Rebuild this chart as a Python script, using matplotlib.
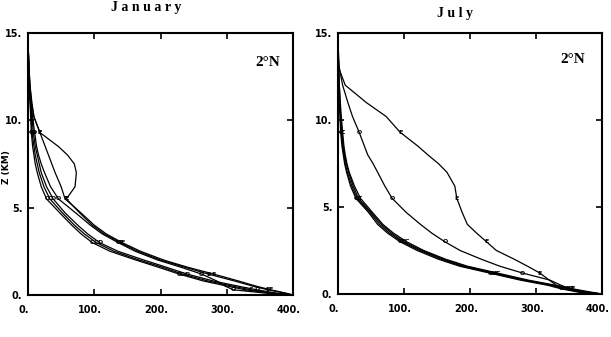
import matplotlib
matplotlib.use("Agg")
import matplotlib.pyplot as plt
import matplotlib.transforms as mtransforms

# height levels (km) shared by all profiles
z_levels = [0, 0.1, 0.3, 0.5, 0.8, 1.2, 1.6, 2.0, 2.5, 3.0, 3.5, 4.0, 4.7, 5.5,
            6.2, 7.0, 7.5, 8.0, 8.5, 9.3, 10.2, 11.0, 12.0, 13.0, 14.0, 15.0]
marker_levels = [0.3, 1.2, 3.0, 5.5, 9.3]

# January profiles
jan_1 = [400, 368, 328, 302, 265, 228, 196, 163, 124, 97, 80, 66, 48, 28,
         20, 14, 11, 9, 7, 5, 4, 3, 2, 1, 0.5, 0]
jan_2 = [400, 372, 336, 310, 272, 233, 202, 168, 130, 103, 85, 70, 52, 33,
         24, 17, 14, 11, 9, 6, 5, 3.5, 2, 1, 0.5, 0]
jan_3 = [400, 376, 345, 318, 280, 240, 208, 175, 136, 108, 90, 75, 56, 38,
         28, 20, 17, 14, 11, 8, 6, 4, 2.5, 1.2, 0.5, 0]
jan_4 = [400, 390, 366, 345, 318, 280, 240, 205, 170, 142, 118, 100, 80, 56,
         50, 41, 36, 31, 26, 18, 9, 6, 3, 1.5, 0.5, 0]
jan_5 = [400, 388, 362, 340, 312, 272, 236, 200, 166, 139, 115, 97, 78, 58,
         71, 73, 70, 60, 46, 18, 9, 5, 3, 1.5, 0.5, 0]
jan_6 = [400, 360, 310, 298, 285, 262, 230, 196, 162, 136, 112, 94, 72, 46,
         34, 25, 20, 16, 13, 10, 7, 4, 2, 1, 0.5, 0]

# July profiles
jul_e = [400, 385, 355, 331, 320, 306, 287, 267, 240, 225, 210, 196, 188, 180,
         177, 165, 152, 136, 121, 94, 73, 43, 11, 1, 0.3, 0]
jul_o = [400, 375, 352, 338, 321, 280, 245, 217, 185, 162, 142, 125, 103, 82,
         71, 60, 53, 45, 40, 32, 22, 15, 7, 2, 0.5, 0]
jul_1 = [400, 365, 338, 318, 276, 230, 184, 152, 120, 94, 75, 60, 46, 27,
         19, 13, 10, 8, 6, 4, 3, 2, 1, 0.5, 0, 0]
jul_2 = [400, 368, 342, 322, 280, 234, 188, 156, 124, 97, 78, 63, 48, 29,
         21, 14, 11, 9, 7, 5, 3.5, 2.5, 1.5, 0.5, 0, 0]
jul_3 = [400, 372, 348, 326, 284, 238, 192, 160, 127, 100, 81, 66, 50, 31,
         23, 16, 12.5, 10, 8, 6, 4, 3, 2, 1, 0, 0]
jul_4 = [400, 376, 354, 330, 288, 242, 196, 163, 130, 104, 84, 68, 52, 34,
         25, 17, 13.5, 11, 9, 7, 5, 3.5, 2, 1, 0, 0]

x_ticks = [0, 100, 200, 300, 400]
x_labels = ["0.", "100.", "200.", "300.", "400."]
y_ticks = [0, 5, 10, 15]
y_labels = ["0.", "5.", "10.", "15."]

jan_curves = [(jan_1, "C"), (jan_2, "C"), (jan_3, "D"),
              (jan_4, "E"), (jan_5, "E"), (jan_6, "O")]
jul_curves = [(jul_e, "E"), (jul_o, "O"), (jul_1, "C"),
              (jul_2, "C"), (jul_3, "E"), (jul_4, "C")]

fig = plt.figure(figsize=(6.11, 3.37), dpi=100)
fig.patch.set_facecolor("white")

ax_jan = fig.add_axes([28 / 611, 1 - 295 / 337, 265 / 611, 262 / 337])
ax_jul = fig.add_axes([338 / 611, 1 - 294 / 337, 264 / 611, 261 / 337])

# labels sit a little left of their ticks in the original
shift = mtransforms.ScaledTranslation(-4 / 100, 0, fig.dpi_scale_trans)

for ax, curves, lab_x, lab_y in [(ax_jan, jan_curves, 0.951, 0.889),
                                 (ax_jul, jul_curves, 0.936, 0.897)]:
    for xs, letter in curves:
        ax.plot(xs, z_levels, color="black", linewidth=0.9)
        for zm in marker_levels:
            i = z_levels.index(zm)
            ax.text(xs[i], z_levels[i], letter, fontsize=4.5, fontweight="bold",
                    ha="center", va="center", color="black")
    ax.set_xlim(0, 400)
    ax.set_ylim(0, 15)
    ax.set_xticks(x_ticks)
    ax.set_xticklabels(x_labels)
    ax.set_yticks(y_ticks)
    ax.set_yticklabels(y_labels)
    ax.tick_params(direction="in", length=4, width=1.2, top=True, right=True,
                   labelsize=7)
    ax.tick_params(axis="x", pad=7)
    ax.tick_params(axis="y", pad=4)
    for lab in ax.get_xticklabels():
        lab.set_fontweight("bold")
        lab.set_transform(lab.get_transform() + shift)
    for lab in ax.get_yticklabels():
        lab.set_fontweight("bold")
    for spine in ax.spines.values():
        spine.set_linewidth(1.5)
    ax.text(lab_x, lab_y, "2°N", transform=ax.transAxes, ha="right", va="center",
            fontsize=11, fontweight="bold", family="Liberation Serif")

fig.text(146 / 611, 1 - 8 / 337, "J a n u a r y", ha="center", va="center",
         fontsize=10, fontweight="bold", family="Liberation Serif")
fig.text(455 / 611, 1 - 14 / 337, "J u l y", ha="center", va="center",
         fontsize=10, fontweight="bold", family="Liberation Serif")
fig.text(0.011, 1 - 167 / 337, "Z (KM)", rotation=90, ha="center", va="center",
         fontsize=6.5, fontweight="bold")

fig.savefig("out.png", dpi=100, facecolor="white")
